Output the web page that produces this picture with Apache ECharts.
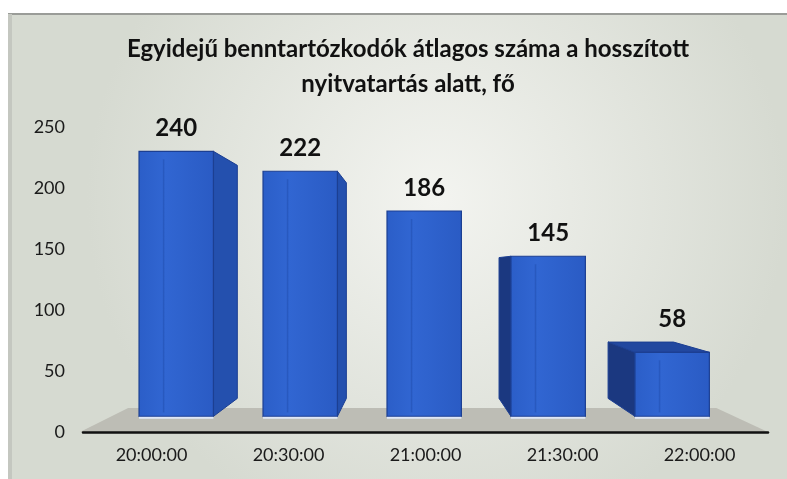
<!DOCTYPE html>
<html>
<head>
<meta charset="utf-8">
<script src="https://cdn.jsdelivr.net/npm/echarts@6/dist/echarts.min.js"></script>
<style>
  html, body { margin: 0; padding: 0; background: #fff; }
  #chart { width: 787px; height: 479px; }
</style>
</head>
<body>
<div id="chart"></div>
<script>
// adatok
const categories = ['20:00:00', '20:30:00', '21:00:00', '21:30:00', '22:00:00'];
const values = [240, 222, 186, 145, 58];
const yMin = 0;
const yMax = 250;
const yStep = 50;
const titleText = 'Egyidejű benntartózkodók átlagos száma a hosszított\nnyitvatartás alatt, fő';

(function () {
    let myChart = echarts.init(document.getElementById('chart'));

    // perspektíva: eltűnési pont és a mélységi síkok
    const FRONT = 0.905;   // oszlopok eleje
    const BACK = 0.796;    // oszlopok hátulja
    const FLOOR_BACK = 0.855;

    function vanish(params, api) {
        const cs = params.coordSys;
        return [cs.x + cs.width * 0.48, api.coord([0, 135])[1]];
    }

    function proj(v, x, y, s) {
        return [v[0] + s * (x - v[0]), v[1] + s * (y - v[1])];
    }

    // szürke "padló"
    function renderFloor(params, api) {
        const cs = params.coordSys;
        const v = vanish(params, api);
        const y0 = api.coord([0, 0])[1];
        const l = cs.x - 3, r = cs.x + cs.width;
        return {
            type: 'polygon',
            shape: {
                points: [[l, y0], [r, y0], proj(v, r, y0, FLOOR_BACK), proj(v, l, y0, FLOOR_BACK)]
            },
            style: { fill: '#bdbdb5' }
        };
    }

    // 3D hatású oszlop
    function renderBar(params, api) {
        const idx = api.value(0);
        const val = api.value(1);
        const base = api.coord([idx, 0]);
        const top = api.coord([idx, val]);
        const hw = api.size([1, 0])[0] * 0.3;
        const v = vanish(params, api);
        const xl = base[0] - hw, xr = base[0] + hw;

        const fTL = proj(v, xl, top[1], FRONT), fTR = proj(v, xr, top[1], FRONT);
        const fBL = proj(v, xl, base[1], FRONT), fBR = proj(v, xr, base[1], FRONT);
        const bTL = proj(v, xl, top[1], BACK), bTR = proj(v, xr, top[1], BACK);
        const bBL = proj(v, xl, base[1], BACK), bBR = proj(v, xr, base[1], BACK);

        const edge = '#1c3f92';
        const children = [];
        // oldallap
        if (fTR[0] < v[0]) {
            children.push({
                type: 'polygon',
                shape: { points: [fTR, bTR, bBR, fBR] },
                style: { fill: '#2450ae', stroke: edge, lineWidth: 1 }
            });
        } else if (fTL[0] > v[0]) {
            children.push({
                type: 'polygon',
                shape: { points: [fTL, bTL, bBL, fBL] },
                style: { fill: '#1b3880', stroke: edge, lineWidth: 1 }
            });
        }
        // fedőlap (csak ha szemmagasság alatt van)
        if (fTL[1] > v[1]) {
            children.push({
                type: 'polygon',
                shape: { points: [fTL, fTR, bTR, bTL] },
                style: { fill: '#22489f', stroke: edge, lineWidth: 1 }
            });
        }
        // előlap
        children.push({
            type: 'polygon',
            shape: { points: [fTL, fTR, fBR, fBL] },
            style: {
                fill: new echarts.graphic.LinearGradient(0, 0, 1, 0, [
                    { offset: 0, color: '#2b5ec8' },
                    { offset: 0.35, color: '#3166d2' },
                    { offset: 1, color: '#2a5bc4' }
                ]),
                stroke: edge,
                lineWidth: 1.2
            }
        });
        // belső finom vonal
        const ix = fTL[0] + (fTR[0] - fTL[0]) * 0.33;
        children.push({
            type: 'line',
            shape: { x1: ix, y1: fTL[1] + 8, x2: ix, y2: fBL[1] - 4 },
            style: { stroke: 'rgba(20,60,150,0.3)', lineWidth: 1.5 }
        });
        // alsó világos perem
        children.push({
            type: 'line',
            shape: { x1: fBL[0], y1: fBL[1] + 1.5, x2: fBR[0], y2: fBR[1] + 1.5 },
            style: { stroke: 'rgba(225,235,255,0.9)', lineWidth: 2 }
        });
        // címke
        children.push({
            type: 'text',
            style: {
                text: String(val),
                x: (fTL[0] + fTR[0]) / 2,
                y: Math.min(fTL[1], bTL[1]) - 23,
                align: 'center',
                verticalAlign: 'middle',
                fontFamily: 'Lato',
                fontWeight: 'bold',
                fontSize: 24,
                fill: '#111'
            }
        });
        return { type: 'group', children: children };
    }

    let option = {
        animation: false,
        graphic: {
            elements: [
                {
                    type: 'rect', z: -10, silent: true,
                    shape: { x: 8, y: 13, width: 779, height: 466 },
                    style: {
                        fill: new echarts.graphic.RadialGradient(0.55, 0.4, 0.75, [
                            { offset: 0, color: '#f3f4f0' },
                            { offset: 1, color: '#d6dad1' }
                        ])
                    }
                },
                {
                    type: 'line', z: -9, silent: true,
                    shape: { x1: 8, y1: 14, x2: 787, y2: 14 },
                    style: { stroke: '#9a9c98', lineWidth: 2 }
                },
                {
                    type: 'line', z: -9, silent: true,
                    shape: { x1: 10, y1: 14, x2: 10, y2: 479 },
                    style: { stroke: '#c4c7c0', lineWidth: 4 }
                }
            ]
        },
        title: {
            text: titleText,
            left: 403,
            textAlign: 'center',
            top: 27,
            textStyle: {
                fontFamily: 'Lato',
                fontWeight: 'bold',
                fontSize: 24,
                lineHeight: 35,
                color: '#111'
            }
        },
        grid: {
            left: 83,
            right: 19,
            top: 127,
            bottom: 47,
            containLabel: false
        },
        xAxis: {
            type: 'category',
            data: categories,
            z: 5,
            axisLine: { lineStyle: { color: '#111', width: 2.5 } },
            axisTick: { show: false },
            axisLabel: {
                color: '#1a1a1a',
                fontFamily: 'Lato',
                fontSize: 18,
                margin: 14
            }
        },
        yAxis: {
            type: 'value',
            min: yMin,
            max: yMax,
            interval: yStep,
            axisLine: { show: false },
            axisTick: { show: false },
            splitLine: { show: false },
            axisLabel: {
                color: '#1a1a1a',
                fontFamily: 'Lato',
                fontSize: 18,
                margin: 18
            }
        },
        series: [
            {
                type: 'custom',
                z: 1,
                silent: true,
                renderItem: renderFloor,
                data: [[0, 0]]
            },
            {
                type: 'custom',
                z: 2,
                renderItem: renderBar,
                encode: { x: 0, y: 1 },
                data: values.map(function (v, i) { return [i, v]; })
            }
        ]
    };
    myChart.setOption(option);

    window.addEventListener('resize', function () {
        myChart.resize();
    });
})();
</script>
</body>
</html>
